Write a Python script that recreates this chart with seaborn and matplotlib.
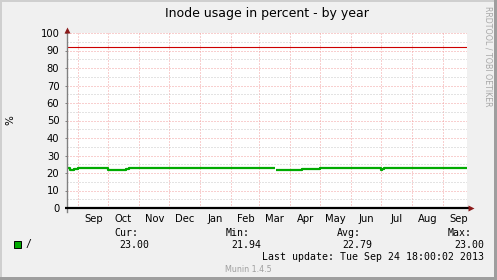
import matplotlib
matplotlib.use("Agg")
import matplotlib.pyplot as plt
import matplotlib.dates as mdates
from matplotlib.patches import Rectangle
import seaborn as sns
import pandas as pd
import numpy as np

# ---------------- data ----------------
seg1_dates = ["2012-08-20 18:00", "2012-08-24 00:00", "2012-08-28 00:00", "2012-09-01 00:00",
              "2012-10-01 00:00", "2012-10-19 00:00", "2012-10-22 00:00", "2012-10-28 00:00",
              "2013-03-17 00:00"]
seg1_values = [22.6, 22.0, 22.5, 23.0, 22.0, 22.3, 22.6, 23.0, 23.0]
seg2_dates = ["2013-03-18 00:00", "2013-04-13 00:00", "2013-04-16 00:00", "2013-05-01 00:00",
              "2013-07-01 00:00", "2013-07-02 00:00", "2013-07-04 00:00", "2013-09-24 18:00"]
seg2_values = [22.0, 22.3, 22.5, 23.0, 22.0, 22.4, 23.0, 23.0]
warning_level = 92
month_labels = ["Sep", "Oct", "Nov", "Dec", "Jan", "Feb", "Mar", "Apr", "May",
                "Jun", "Jul", "Aug", "Sep"]
y_ticks = [0, 10, 20, 30, 40, 50, 60, 70, 80, 90, 100]
series_name = "/"
stat_cur, stat_min, stat_avg, stat_max = "23.00", "21.94", "22.79", "23.00"
title = "Inode usage in percent - by year"
last_update = "Last update: Tue Sep 24 18:00:02 2013"
end_time = pd.Timestamp("2013-09-24 18:00")
start_time = end_time - pd.Timedelta(days=400)

df = pd.DataFrame({
    "time": pd.to_datetime(seg1_dates + seg2_dates, format="%Y-%m-%d %H:%M"),
    "value": seg1_values + seg2_values,
    "segment": [1] * len(seg1_dates) + [2] * len(seg2_dates),
})

W, H = 497, 280
BG = "#F0F0F0"
GREEN = "#00AA00"
fig = plt.figure(figsize=(W / 100, H / 100), dpi=100, facecolor=BG)

def fx(x):
    return x / W

def fy(y):
    return 1 - y / H

# 3D border
fig.add_artist(Rectangle((0, 0), fx(2), 1, transform=fig.transFigure, color="#CFCFCF", lw=0))
fig.add_artist(Rectangle((0, fy(2)), 1, 2 / H, transform=fig.transFigure, color="#CFCFCF", lw=0))
fig.add_artist(Rectangle((fx(W - 3), 0), fx(3), 1, transform=fig.transFigure, color="#9E9E9E", lw=0))
fig.add_artist(Rectangle((0, 0), 1, 3 / H, transform=fig.transFigure, color="#9E9E9E", lw=0))

ax = fig.add_axes([fx(67), fy(208), 400 / W, 175 / H])
ax.set_facecolor("white")

sns.lineplot(data=df, x="time", y="value", units="segment", estimator=None,
             color=GREEN, lw=1.6, drawstyle="steps-post", ax=ax, zorder=5,
             solid_capstyle="butt")

ax.set_xlim(start_time, end_time)
ax.set_ylim(0, 100)

# grid
ax.yaxis.set_major_locator(matplotlib.ticker.FixedLocator(y_ticks))
ax.yaxis.set_minor_locator(matplotlib.ticker.MultipleLocator(5))
ax.xaxis.set_major_locator(mdates.MonthLocator())
ax.xaxis.set_major_formatter(matplotlib.ticker.NullFormatter())
label_pos = pd.date_range("2012-09-01", periods=len(month_labels), freq="MS") + pd.Timedelta(days=15)
ax.xaxis.set_minor_locator(matplotlib.ticker.FixedLocator(mdates.date2num(label_pos)))
ax.xaxis.set_minor_formatter(matplotlib.ticker.FixedFormatter(month_labels))

dots = (0, (1, 2))
ax.yaxis.grid(True, which="major", color="#F2A0A0", lw=0.72, ls=dots)
ax.yaxis.grid(True, which="minor", color="#C8C8C8", lw=0.72, ls=dots)
ax.xaxis.grid(True, which="major", color="#F2A0A0", lw=0.72, ls=dots)
ax.set_axisbelow(True)

for s in ax.spines.values():
    s.set_visible(False)

ax.tick_params(axis="y", which="major", length=1.5, width=0.7, color="#808080",
               labelsize=7.2, pad=4.0, labelcolor="black")
ax.tick_params(axis="y", which="minor", length=0)
ax.tick_params(axis="x", which="major", length=0)
ax.tick_params(axis="x", which="minor", length=0, labelsize=7.2, pad=4.5, labelcolor="black")
ax.set_xlabel("")
ax.set_ylabel("%", fontsize=7.5)
ax.yaxis.set_label_coords(-52 / 400, 0.505)

# warning rule
ax.axhline(warning_level, color="#CC0000", lw=0.8, zorder=4)

# axes lines with arrows
ax.plot([0, 0], [-0.02, 1.01], transform=ax.transAxes, color="#808080", lw=1.0,
        clip_on=False, zorder=6)
ax.plot([0], [1.02], marker="^", ms=4, color="#8B1A1A", transform=ax.transAxes,
        clip_on=False, zorder=7, mec="none")
ax.plot([-0.005, 1.006], [0, 0], transform=ax.transAxes, color="black", lw=1.6,
        clip_on=False, zorder=6, solid_capstyle="butt")
ax.plot([1.011], [0], marker=">", ms=4, color="#8B1A1A", transform=ax.transAxes,
        clip_on=False, zorder=7, mec="none")

# title & side texts
fig.text(fx(267), fy(13.5), title, ha="center", va="center", fontsize=9, color="black")
fig.text(fx(488), fy(56.5), "RRDTOOL / TOBI OETIKER", rotation=270, ha="center", va="center",
         fontsize=5.7, color="#A8A8A8")

# legend
mono = "DejaVu Sans Mono"
fig.add_artist(Rectangle((fx(13.5), fy(248)), 7 / W, 7 / H, transform=fig.transFigure,
                         facecolor=GREEN, edgecolor="black", lw=0.7))
fig.text(fx(26), fy(244.5), series_name, family=mono, fontsize=7.1, va="center", ha="left")
heads = ["Cur:", "Min:", "Avg:", "Max:"]
head_x = [114, 226, 337, 448]
vals = [stat_cur, stat_min, stat_avg, stat_max]
val_x = [119, 231.5, 342.5, 454]
for h, hx in zip(heads, head_x):
    fig.text(fx(hx), fy(233.5), h, family=mono, fontsize=7.1, va="center", ha="left")
for v, vx in zip(vals, val_x):
    fig.text(fx(vx), fy(244.5), v, family=mono, fontsize=7.1, va="center", ha="left")
fig.text(fx(483.5), fy(256.8), last_update, family=mono, fontsize=7.1, va="center", ha="right")
fig.text(fx(248.5), fy(269), "Munin 1.4.5", fontsize=5.8, va="center", ha="center", color="#A0A0A0")

fig.savefig("out.png", dpi=100, facecolor=BG)
